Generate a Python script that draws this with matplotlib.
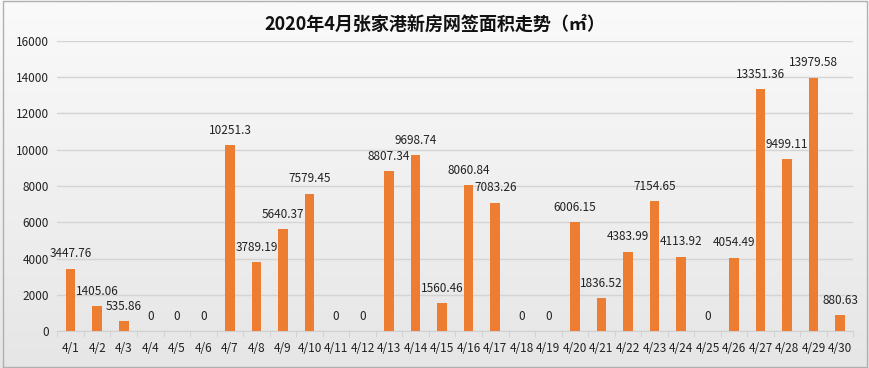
import numpy as np
import matplotlib.pyplot as plt

plt.rcParams['font.family'] = ['Noto Sans CJK SC', 'DejaVu Sans']

# data
days = [f"4/{d}" for d in range(1, 31)]
area = [3447.76, 1405.06, 535.86, 0, 0, 0, 10251.3, 3789.19, 5640.37, 7579.45,
        0, 0, 8807.34, 9698.74, 1560.46, 8060.84, 7083.26, 0, 0, 6006.15,
        1836.52, 4383.99, 7154.65, 4113.92, 0, 4054.49, 13351.36, 9499.11, 13979.58, 880.63]
labels = ["3447.76", "1405.06", "535.86", "0", "0", "0", "10251.3", "3789.19", "5640.37", "7579.45",
          "0", "0", "8807.34", "9698.74", "1560.46", "8060.84", "7083.26", "0", "0", "6006.15",
          "1836.52", "4383.99", "7154.65", "4113.92", "0", "4054.49", "13351.36", "9499.11", "13979.58", "880.63"]
yticks = np.arange(0, 16001, 2000)

fig = plt.figure(figsize=(8.7, 3.68), dpi=100)

# background gradient + border
bg = fig.add_axes([0, 0, 1, 1], zorder=-1)
grad = np.linspace(1.0, 0.0, 256).reshape(-1, 1)
bg.imshow(grad, aspect='auto', cmap=plt.matplotlib.colors.LinearSegmentedColormap.from_list(
    'g', ['#e6e6e6', '#fafafa']), extent=[0, 1, 0, 1])
bg.plot([0.004, 0.996, 0.996, 0.004, 0.004], [0.004, 0.004, 0.996, 0.996, 0.004],
        color='#b0b0b0', lw=1)
bg.set_xlim(0, 1)
bg.set_ylim(0, 1)
bg.axis('off')

ax = fig.add_axes([0.066, 0.1, 0.915, 0.789])
ax.patch.set_alpha(0)
x = np.arange(len(days))
ax.bar(x, area, width=0.36, color='#ED7D31', zorder=3)
for xi, v, lab in zip(x, area, labels):
    ax.text(xi, v + 450, lab, ha='center', va='bottom', fontsize=8.5, color='#222222')

ax.set_ylim(0, 16000)
ax.set_xlim(-0.5, len(days) - 0.5)
ax.set_yticks(yticks)
ax.set_yticklabels([str(t) for t in yticks], fontsize=8.5, color='#222222')
ax.set_xticks(x)
ax.set_xticklabels(days, fontsize=8.5, color='#222222')
ax.set_xticks(np.arange(-0.5, len(days), 1), minor=True)
ax.tick_params(axis='x', which='major', length=0, pad=8)
ax.tick_params(axis='x', which='minor', length=4, color='#d0d0d0')
ax.tick_params(axis='y', length=0, pad=6)
ax.grid(axis='y', color='#d4d4d4', lw=1, zorder=0)
for s in ['top', 'right', 'left']:
    ax.spines[s].set_visible(False)
ax.spines['bottom'].set_color('#d0d0d0')

fig.text(0.5, 0.935, "2020年4月张家港新房网签面积走势（㎡）", ha='center', va='center',
         fontsize=13, fontweight='bold', color='#111111')

fig.savefig('out.png', dpi=100)
